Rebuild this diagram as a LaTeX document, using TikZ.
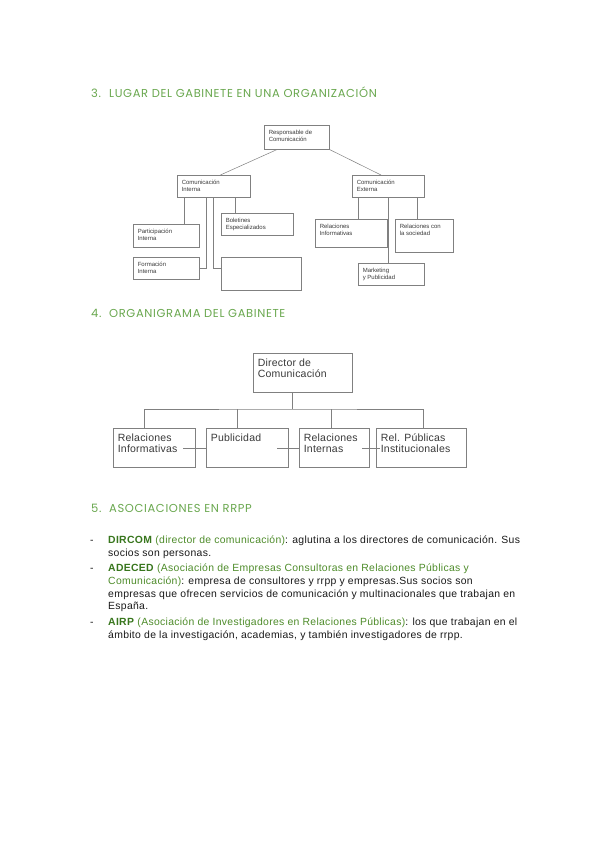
\documentclass[tikz,border=0pt]{standalone}
\usepackage{fontspec}
\setmainfont{Liberation Sans}
\newfontfamily\headfont[LetterSpace=5.5]{Poppins}
\newfontfamily\bodyfont[LetterSpace=3]{Liberation Sans}
\newfontfamily\cajafont[LetterSpace=2]{Liberation Sans}
\usetikzlibrary{calc}
\definecolor{titgreen}{HTML}{6AA84F}
\definecolor{boldgreen}{HTML}{38761D}
\definecolor{pargreen}{HTML}{4E8C2A}
\definecolor{boxgray}{HTML}{808080}
\definecolor{txtgray}{HTML}{3A3A3A}
\newcommand{\celda}[3]{\parbox[t][#2][t]{#1}{\raggedright\strut #3}}

\begin{document}
\begin{tikzpicture}[x=1pt,y=-1pt,
    titulo/.style={anchor=base west, inner sep=0pt, text=titgreen, font=\headfont\fontsize{11.5}{13}\selectfont},
    cajita/.style={draw=boxgray, line width=0.5pt, anchor=north west, inner xsep=4.5pt, inner ysep=3.8pt, text=txtgray, font=\fontsize{6}{7.3}\selectfont},
    caja/.style={draw=boxgray, line width=0.7pt, anchor=north west, inner xsep=4.5pt, inner ysep=4.5pt, text=txtgray, font=\cajafont\fontsize{10.5}{11.7}\selectfont},
    linea/.style={draw=boxgray, line width=0.5pt},
    linea2/.style={draw=boxgray, line width=0.7pt},
    texto/.style={anchor=base west, inner sep=0pt, text=black!90, font=\bodyfont\fontsize{10.4}{12}\selectfont}]
    \useasboundingbox[fill=white] (0,0) rectangle (599,848);

    % 3. lugar del gabinete
    \node[titulo] (n3) at (91,97.3) {3.};
    \node[titulo] (t3) at (109,97.3) {LUGAR DEL GABINETE EN UNA ORGANIZACIÓN};

    \node[cajita] (resp) at (264,125) {\celda{56pt}{16.4pt}{Responsable de\\Comunicación}};
    \node[cajita] (cint) at (177,175) {\celda{64pt}{14.4pt}{Comunicación\\Interna}};
    \node[cajita] (cext) at (352,175) {\celda{63pt}{14.4pt}{Comunicación\\Externa}};
    \node[cajita] (part) at (133,224) {\celda{57pt}{15.4pt}{Participación\\Interna}};
    \node[cajita] (form) at (133,257) {\celda{57pt}{14.4pt}{Formación\\Interna}};
    \node[cajita] (bol) at (221,213) {\celda{63pt}{14.4pt}{Boletines\\Especializados}};
    \node[cajita] (vac) at (221,257) {\celda{71pt}{25.4pt}{}};
    \node[cajita] (relinf) at (315,219) {\celda{63pt}{20.4pt}{Relaciones\\Informativas}};
    \node[cajita] (relsoc) at (395,219) {\celda{49pt}{25.4pt}{Relaciones con\\la sociedad}};
    \node[cajita] (mkt) at (358,263) {\celda{57pt}{14.4pt}{Marketing\\y Publicidad}};

    \draw[linea] ($(resp.south west)!0.2!(resp.south east)$) -- ($(cint.north west)!0.59!(cint.north east)$);
    \draw[linea] (resp.south east) -- ($(cext.north west)!0.4!(cext.north east)$);
    \foreach \xx/\dest in {184/part, 235/bol}
        \draw[linea] (cint.south -| \xx,0) -- (\dest.north -| \xx,0);
    \draw[linea] (cint.south -| 206,0) |- (form.east);
    \draw[linea] (cint.south -| 213,0) |- (vac.west |- form.east);
    \foreach \xx/\dest in {358/relinf, 388/mkt, 417/relsoc}
        \draw[linea] (cext.south -| \xx,0) -- (\dest.north -| \xx,0);

    % 4. organigrama
    \node[titulo] (n4) at (91,317.3) {4.};
    \node[titulo] (t4) at (109,317.3) {ORGANIGRAMA DEL GABINETE};

    \node[caja] (dir) at (253,353) {\celda{90pt}{30pt}{Director de\\Comunicación}};
    \node[caja] (rinf) at (113,428) {\celda{73pt}{30pt}{Relaciones\\Informativas}};
    \node[caja] (pub) at (206,428) {\celda{73pt}{30pt}{Publicidad}};
    \node[caja] (rint) at (299,428) {\celda{61pt}{30pt}{Relaciones\\Internas}};
    \node[caja] (rpub) at (376,428) {\celda{81pt}{30pt}{Rel. Públicas\\Institucionales}};

    \coordinate (bus) at (292,409);
    \draw[linea2] (dir.south -| bus) -- (bus);
    \draw[linea2] (rinf.north -| 144,0) |- (bus) -| (rpub.north -| 423,0);
    \foreach \xx/\dest in {237/pub, 331/rint}
        \draw[linea2] (\dest.north -| \xx,0) -- (bus -| \xx,0);
    \draw[linea2] (183,448) -- (pub.west |- 0,448);
    \draw[linea2] (277,448) -- (rint.west |- 0,448);
    \draw[linea2] (362,448) -- (380,448);

    % 5. asociaciones
    \node[titulo] (n5) at (91,512.7) {5.};
    \node[titulo] (t5) at (109,512.7) {ASOCIACIONES EN RRPP};

    \foreach \yy [count=\i] in {543.5,571.5,625.5}
        \node[texto] (guion\i) at (90,\yy) {-};
    \node[texto] (l1) at (108,543.5) {\textcolor{boldgreen}{\textbf{DIRCOM}} \textcolor{pargreen}{(director de comunicación)}: aglutina a los directores de comunicación. Sus};
    \node[texto] (l2) at (108,556) {socios son personas.};
    \node[texto] (l3) at (108,571.5) {\textcolor{boldgreen}{\textbf{ADECED}} \textcolor{pargreen}{(Asociación de Empresas Consultoras en Relaciones Públicas y}};
    \node[texto] (l4) at (108,584.3) {\textcolor{pargreen}{Comunicación)}: empresa de consultores y rrpp y empresas.Sus socios son};
    \node[texto] (l5) at (108,597.1) {empresas que ofrecen servicios de comunicación y multinacionales que trabajan en};
    \node[texto] (l6) at (108,609.9) {España.};
    \node[texto] (l7) at (108,625.5) {\textcolor{boldgreen}{\textbf{AIRP}} \textcolor{pargreen}{(Asociación de Investigadores en Relaciones Públicas)}: los que trabajan en el};
    \node[texto] (l8) at (108,638) {ámbito de la investigación, academias, y también investigadores de rrpp.};
\end{tikzpicture}
\end{document}
